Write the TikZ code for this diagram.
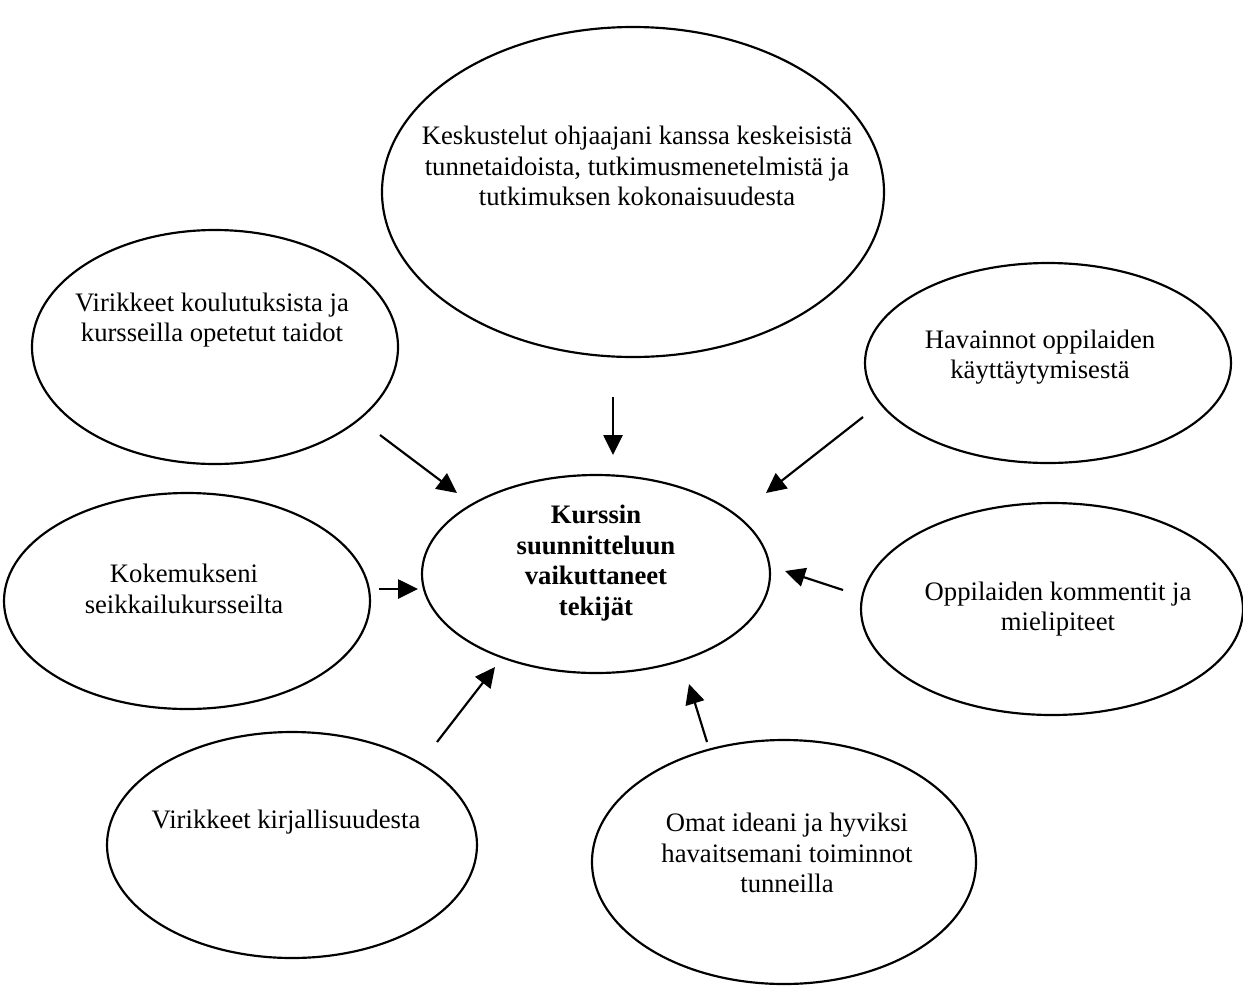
\documentclass[tikz,border=0pt]{standalone}
\usepackage{fontspec}
\setmainfont{Liberation Serif}
\usepackage{tikz}
\usetikzlibrary{positioning, arrows.meta, shapes.geometric}

\begin{document}
\begin{tikzpicture}[
  x=0.6pt, y=-0.6pt,
  every node/.style={font=\fontsize{16}{18.3}\selectfont},
  factor/.style={draw, ellipse, line width=1.3pt, inner sep=0pt},
  core/.style={factor},
  txt/.style={align=center, inner sep=0pt},
  arrow/.style={-{Triangle[length=12pt, width=11.5pt]}, line width=1.3pt}
]
  \useasboundingbox (0,0) rectangle (1243,985);

  % ellipses
  \node[core, minimum width=208.8pt, minimum height=118.8pt] (kurssi) at (596,574) {};
  \node[factor, minimum width=301.2pt, minimum height=198pt] (keskustelut) at (633,192) {};
  \node[factor, minimum width=219.6pt, minimum height=140.4pt] (koulutus) at (215,347) {};
  \node[factor, minimum width=219.6pt, minimum height=120pt] (havainnot) at (1048,363) {};
  \node[factor, minimum width=219.6pt, minimum height=129.6pt] (kokemus) at (187,601) {};
  \node[factor, minimum width=229.2pt, minimum height=127.2pt] (kommentit) at (1052,609) {};
  \node[factor, minimum width=222pt, minimum height=135.6pt] (kirjallisuus) at (292,845) {};
  \node[factor, minimum width=230.4pt, minimum height=146.4pt] (ideat) at (784,862) {};

  % texts
  \node[txt, font=\fontsize{16}{18.3}\selectfont\bfseries] (kurssi-t) at (596,563)
    {Kurssin\\suunnitteluun\\vaikuttaneet\\tekijät};
  \node[txt] (keskustelut-t) at (637,166)
    {Keskustelut ohjaajani kanssa keskeisistä\\tunnetaidoista, tutkimusmenetelmistä ja\\tutkimuksen kokonaisuudesta};
  \node[txt] (koulutus-t) at (212,320) {Virikkeet koulutuksista ja\\kursseilla opetetut taidot};
  \node[txt] (havainnot-t) at (1040,357) {Havainnot oppilaiden\\käyttäytymisestä};
  \node[txt] (kokemus-t) at (184,589) {Kokemukseni\\seikkailukursseilta};
  \node[txt] (kommentit-t) at (1058,609) {Oppilaiden kommentit ja\\mielipiteet};
  \node[txt] (kirjallisuus-t) at (286,822) {Virikkeet kirjallisuudesta};
  \node[txt] (ideat-t) at (787,853) {Omat ideani ja hyviksi\\havaitsemani toiminnot\\tunneilla};

  % arrow ends
  \coordinate (k1) at (613,397);  \coordinate (c1) at (613,455);
  \coordinate (k2) at (380,435);  \coordinate (c2) at (457,493);
  \coordinate (k3) at (863,417);  \coordinate (c3) at (766,493);
  \coordinate (k4) at (379,589);  \coordinate (c4) at (418,589);
  \coordinate (k5) at (843,590);  \coordinate (c5) at (785,571);
  \coordinate (k6) at (437,742);  \coordinate (c6) at (495,667);
  \coordinate (k7) at (707,742);  \coordinate (c7) at (689,684);

  \foreach \i in {1,...,7}
    \draw[arrow] (k\i) -- (c\i);
\end{tikzpicture}
\end{document}
